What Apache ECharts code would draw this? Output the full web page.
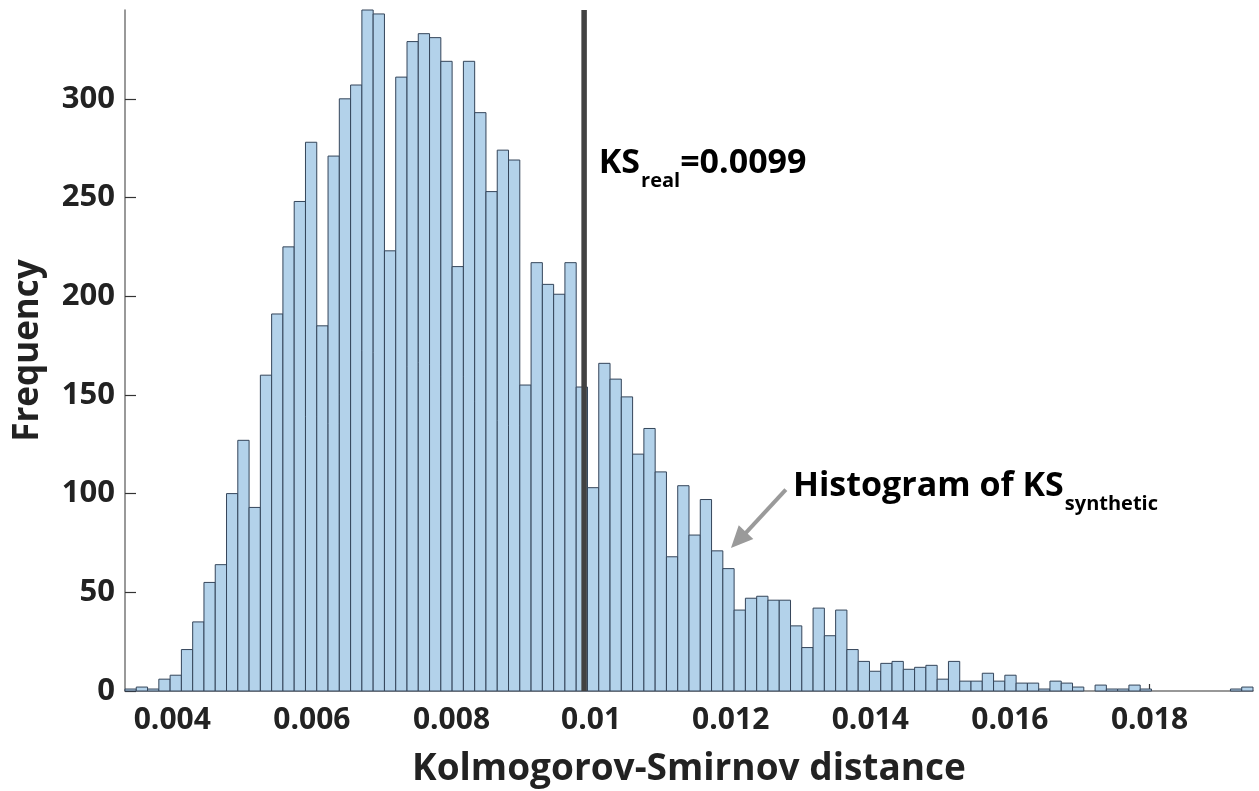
<!DOCTYPE html>
<html>
<head>
<meta charset="utf-8">
<script src="https://cdn.jsdelivr.net/npm/echarts@6/dist/echarts.min.js"></script>
<style>
  html, body { margin: 0; padding: 0; background: #fff; }
  #chart { width: 1259px; height: 791px; }
</style>
</head>
<body>
<div id="chart"></div>
<script>
// Histogram of synthetic Kolmogorov-Smirnov distances (100 equal-width bins)
const binLo = 0.0033223;
const binHi = 0.019483;
const counts = [
  1, 2, 1, 6, 8, 21, 35, 55, 64, 100,
  127, 93, 160, 191, 225, 248, 278, 185, 271, 300,
  307, 345, 343, 223, 311, 329, 333, 331, 319, 215,
  319, 293, 253, 274, 269, 155, 217, 206, 201, 217,
  154, 103, 166, 158, 149, 120, 133, 111, 68, 104,
  79, 97, 71, 62, 41, 47, 48, 46, 46, 33,
  22, 42, 28, 41, 21, 15, 10, 14, 15, 11,
  12, 13, 6, 15, 5, 5, 9, 5, 8, 4,
  4, 1, 5, 4, 2, 0, 3, 1, 1, 3,
  1, 0, 0, 0, 0, 0, 0, 0, 1, 2
];
const xTicks = [0.004, 0.006, 0.008, 0.01, 0.012, 0.014, 0.016, 0.018];
const yTicks = [0, 50, 100, 150, 200, 250, 300];
const ksReal = 0.0099;
const yMax = 345;

const FONT = '"Open Sans", "Noto Sans", sans-serif';
const binWidth = (binHi - binLo) / counts.length;
const bins = counts.map((c, i) => [binLo + i * binWidth, binLo + (i + 1) * binWidth, c]);

const chart = echarts.init(document.getElementById('chart'), null, { renderer: 'canvas' });

chart.setOption({
  animation: false,
  backgroundColor: '#ffffff',
  grid: { left: 125, right: 6, top: 10, bottom: 100, containLabel: false, outerBoundsMode: 'none' },
  xAxis: {
    type: 'value',
    min: binLo,
    max: binHi,
    name: 'Kolmogorov-Smirnov distance',
    nameLocation: 'middle',
    nameGap: 60,
    nameTextStyle: { fontFamily: FONT, fontWeight: 'bold', fontSize: 37, color: '#222' },
    axisLine: { show: true, lineStyle: { color: '#777', width: 1.5 } },
    axisTick: { show: true, inside: true, length: 7, customValues: xTicks, lineStyle: { color: '#333', width: 1.2 } },
    axisLabel: {
      customValues: xTicks,
      margin: 14,
      fontFamily: FONT, fontWeight: 'bold', fontSize: 30, color: '#222',
      formatter: v => String(+v.toPrecision(6))
    },
    splitLine: { show: false }
  },
  yAxis: {
    type: 'value',
    min: 0,
    max: yMax,
    name: 'Frequency',
    nameLocation: 'middle',
    nameGap: 79,
    nameRotate: 90,
    nameTextStyle: { fontFamily: FONT, fontWeight: 'bold', fontSize: 35, color: '#222' },
    axisLine: { show: true, lineStyle: { color: '#777', width: 1.5 } },
    axisTick: { show: true, inside: true, length: 11, customValues: yTicks, lineStyle: { color: '#333', width: 1.2 } },
    axisLabel: {
      customValues: yTicks,
      margin: 10,
      fontFamily: FONT, fontWeight: 'bold', fontSize: 31, color: '#222'
    },
    splitLine: { show: false }
  },
  series: [
    {
      type: 'custom',
      name: 'KS synthetic',
      data: bins,
      encode: { x: [0, 1], y: 2 },
      renderItem: function (params, api) {
        const c = api.value(2);
        if (c <= 0) return null;
        const p0 = api.coord([api.value(0), c]);
        const p1 = api.coord([api.value(1), 0]);
        return {
          type: 'rect',
          shape: { x: p0[0], y: p0[1], width: p1[0] - p0[0], height: p1[1] - p0[1] },
          style: { fill: '#b3d2ea', stroke: '#34455a', lineWidth: 1 }
        };
      },
      z: 2
    },
    {
      type: 'line',
      name: 'KS real',
      data: [[ksReal, 0], [ksReal, yMax]],
      symbol: 'none',
      lineStyle: { color: '#424242', width: 5.5 },
      z: 3
    }
  ]
});

// Annotations placed relative to the data coordinates
const px = (x, y) => chart.convertToPixel({ gridIndex: 0 }, [x, y]);
const ksLabel = px(0.01011, 266);
const arrowTip = px(0.012004, 72.4);
const arrowTail = px(0.01279, 102);
const histLabel = px(0.012892, 102);

const textStyles = {
  a: { fontFamily: FONT, fontWeight: 'bold', fontSize: 34, color: '#111', lineHeight: 40, verticalAlign: 'top' },
  b: { fontFamily: FONT, fontWeight: 'bold', fontSize: 20, color: '#111', lineHeight: 20, padding: [25, 0, 0, 1], verticalAlign: 'top' }
};

chart.setOption({
  graphic: [
    {
      type: 'text',
      x: ksLabel[0], y: ksLabel[1],
      style: { text: '{a|KS}{b|real}{a|=0.0099}', verticalAlign: 'middle', rich: textStyles },
      z: 10
    },
    {
      type: 'line',
      shape: { x1: arrowTail[0], y1: arrowTail[1], x2: arrowTip[0] + 10, y2: arrowTip[1] - 10 },
      style: { stroke: '#9a9a9a', lineWidth: 4 },
      z: 10
    },
    {
      type: 'polygon',
      shape: {
        points: (function () {
          const tx = arrowTip[0], ty = arrowTip[1];
          const dx = arrowTail[0] - tx, dy = arrowTail[1] - ty;
          const len = Math.sqrt(dx * dx + dy * dy);
          const ux = dx / len, uy = dy / len;
          const bx = tx + ux * 22, by = ty + uy * 22;
          return [[tx, ty], [bx - uy * 10, by + ux * 10], [bx + uy * 10, by - ux * 10]];
        })()
      },
      style: { fill: '#9a9a9a' },
      z: 10
    },
    {
      type: 'text',
      x: histLabel[0], y: histLabel[1],
      style: { text: '{a|Histogram of KS}{b|synthetic}', verticalAlign: 'middle', rich: textStyles },
      z: 10
    }
  ]
});
</script>
</body>
</html>
